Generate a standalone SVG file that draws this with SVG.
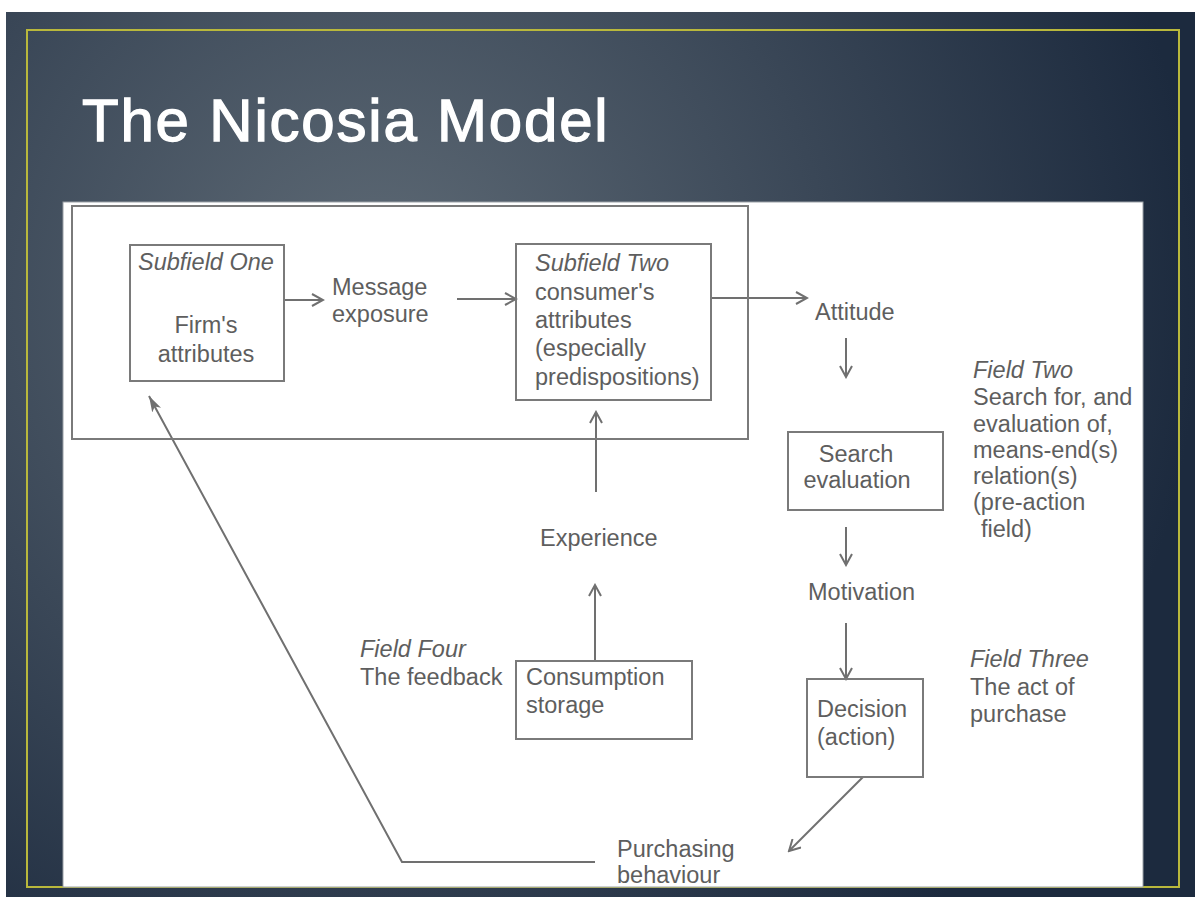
<svg xmlns="http://www.w3.org/2000/svg" width="1195" height="897" viewBox="0 0 1195 897">
<defs>
<radialGradient id="bg" cx="380" cy="300" r="820" gradientUnits="userSpaceOnUse">
<stop offset="0" stop-color="#5f6b76"/>
<stop offset="0.55" stop-color="#3a4757"/>
<stop offset="1" stop-color="#1c2a3e"/>
</radialGradient>
<marker id="open" markerWidth="14" markerHeight="14" refX="12" refY="7" orient="auto" markerUnits="userSpaceOnUse">
<path d="M1,1 L12,7 L1,13" fill="none" stroke="#707070" stroke-width="2"/>
</marker>
<marker id="solid" markerWidth="18" markerHeight="12" refX="16" refY="6" orient="auto" markerUnits="userSpaceOnUse">
<path d="M0,1 L16,6 L0,11 L4,6 Z" fill="#707070"/>
</marker>
<style>
.t{font-family:"Liberation Sans",Arial,sans-serif;font-size:23.5px;fill:#5e5e5e}
.i{font-style:italic}
.c{text-anchor:middle}
.box{fill:none;stroke:#7a7a7a;stroke-width:2}
.ln{fill:none;stroke:#707070;stroke-width:2}
</style>
</defs>
<rect x="0" y="0" width="1195" height="897" fill="#ffffff"/>
<rect x="6" y="12" width="1189" height="885" fill="url(#bg)"/>
<rect x="27" y="30" width="1152" height="857" fill="none" stroke="#b9b83c" stroke-width="2"/>
<text x="82" y="141" font-family="'Liberation Sans',Arial,sans-serif" font-size="60" letter-spacing="1.8" fill="#ffffff" stroke="#ffffff" stroke-width="1.3">The Nicosia Model</text>
<rect x="63" y="202" width="1080" height="685" fill="#ffffff" stroke="#9aa0a6" stroke-width="1"/>

<g id="connectors">
<line class="ln" x1="284" y1="300" x2="323" y2="300" marker-end="url(#open)"/>
<line class="ln" x1="457" y1="299" x2="516" y2="299" marker-end="url(#open)"/>
<line class="ln" x1="711" y1="298" x2="807" y2="298" marker-end="url(#open)"/>
<line class="ln" x1="846" y1="338" x2="846" y2="377" marker-end="url(#open)"/>
<line class="ln" x1="846" y1="527" x2="846" y2="565" marker-end="url(#open)"/>
<line class="ln" x1="846" y1="623" x2="846" y2="679" marker-end="url(#open)"/>
<line class="ln" x1="863" y1="777" x2="789" y2="851" marker-end="url(#open)"/>
<line class="ln" x1="595" y1="661" x2="595" y2="585" marker-end="url(#open)"/>
<line class="ln" x1="596" y1="492" x2="596" y2="412" marker-end="url(#open)"/>
<polyline class="ln" points="595,862 402,862 149,396" marker-end="url(#solid)"/>
</g>

<g id="field-one">
<rect class="box" x="72" y="206" width="676" height="233"/>
</g>
<g id="subfield-one">
<rect class="box" x="130" y="245" width="154" height="136"/>
<text class="t i" x="138" y="270">Subfield One</text>
<text class="t c" x="206" y="333">Firm's</text>
<text class="t c" x="206" y="362">attributes</text>
</g>
<g id="message-exposure">
<text class="t" x="332" y="295">Message</text>
<text class="t" x="332" y="322">exposure</text>
</g>
<g id="subfield-two">
<rect class="box" x="516" y="244" width="195" height="156"/>
<text class="t i" x="535" y="271">Subfield Two</text>
<text class="t" x="535" y="300">consumer's</text>
<text class="t" x="535" y="328">attributes</text>
<text class="t" x="535" y="356">(especially</text>
<text class="t" x="535" y="385">predispositions)</text>
</g>
<g id="attitude">
<text class="t" x="815" y="320">Attitude</text>
</g>
<g id="search-evaluation">
<rect class="box" x="788" y="432" width="155" height="78"/>
<text class="t c" x="856" y="462">Search</text>
<text class="t c" x="857" y="488">evaluation</text>
</g>
<g id="field-two">
<text class="t i" x="973" y="378">Field Two</text>
<text class="t" x="973" y="405">Search for, and</text>
<text class="t" x="973" y="432">evaluation of,</text>
<text class="t" x="973" y="458">means-end(s)</text>
<text class="t" x="973" y="484">relation(s)</text>
<text class="t" x="973" y="510">(pre-action</text>
<text class="t" x="981" y="537">field)</text>
</g>
<g id="motivation">
<text class="t" x="808" y="600">Motivation</text>
</g>
<g id="decision">
<rect class="box" x="807" y="679" width="116" height="98"/>
<text class="t" x="817" y="717">Decision</text>
<text class="t" x="817" y="745">(action)</text>
</g>
<g id="field-three">
<text class="t i" x="970" y="667">Field Three</text>
<text class="t" x="970" y="695">The act of</text>
<text class="t" x="970" y="722">purchase</text>
</g>
<g id="experience">
<text class="t" x="540" y="546">Experience</text>
</g>
<g id="consumption-storage">
<rect class="box" x="516" y="661" width="176" height="78"/>
<text class="t" x="526" y="685">Consumption</text>
<text class="t" x="526" y="713">storage</text>
</g>
<g id="field-four">
<text class="t i" x="360" y="657">Field Four</text>
<text class="t" x="360" y="685">The feedback</text>
</g>
<g id="purchasing-behaviour">
<text class="t" x="617" y="857">Purchasing</text>
<text class="t" x="617" y="883">behaviour</text>
</g>
</svg>
